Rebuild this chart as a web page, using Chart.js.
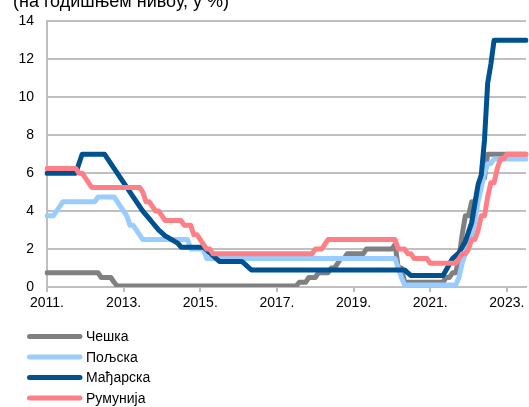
<!DOCTYPE html>
<html><head><meta charset="utf-8">
<script src="https://cdn.jsdelivr.net/npm/chart.js@4/dist/chart.umd.min.js"></script>
<style>
html,body{margin:0;padding:0;background:#fff;overflow:hidden}
#wrap{position:relative;width:529px;height:407px;overflow:hidden}
#title{position:absolute;left:13px;top:-8px;font:18px 'Liberation Sans',Arial,sans-serif;line-height:18px;white-space:nowrap;color:#000}
canvas{position:absolute;left:0;top:0}
</style></head><body>
<div id="wrap"><canvas id="c" width="529" height="407"></canvas><div id="title">(на годишњем нивоу, у %)</div></div>
<script>
// Categories: months Jan 2011 .. Jul 2023
const startYear = 2011, endYear = 2023, endMonth = 7;
const months = [];
for (let y = startYear; y <= endYear; y++) {
  for (let m = 1; m <= 12; m++) {
    if (y === endYear && m > endMonth) break;
    months.push(y + '-' + (m < 10 ? '0' + m : m));
  }
}
const yearTickLabels = ['2011.', '2013.', '2015.', '2017.', '2019.', '2021.', '2023.'];
const seriesNames = ['Чешка', 'Пољска', 'Мађарска', 'Румунија'];

const czech = [
  0.75,0.75,0.75,0.75,0.75,0.75,0.75,0.75,0.75,0.75,0.75,0.75, // 2011
  0.75,0.75,0.75,0.75,0.75,0.5,0.5,0.5,0.5,0.25,0.05,0.05,     // 2012
  0.05,0.05,0.05,0.05,0.05,0.05,0.05,0.05,0.05,0.05,0.05,0.05, // 2013
  0.05,0.05,0.05,0.05,0.05,0.05,0.05,0.05,0.05,0.05,0.05,0.05, // 2014
  0.05,0.05,0.05,0.05,0.05,0.05,0.05,0.05,0.05,0.05,0.05,0.05, // 2015
  0.05,0.05,0.05,0.05,0.05,0.05,0.05,0.05,0.05,0.05,0.05,0.05, // 2016
  0.05,0.05,0.05,0.05,0.05,0.05,0.05,0.25,0.25,0.25,0.5,0.5,   // 2017
  0.5,0.75,0.75,0.75,0.75,1,1,1.25,1.5,1.5,1.75,1.75,          // 2018
  1.75,1.75,1.75,1.75,2,2,2,2,2,2,2,2,                         // 2019
  2,2.25,1,1,0.25,0.25,0.25,0.25,0.25,0.25,0.25,0.25,          // 2020
  0.25,0.25,0.25,0.25,0.25,0.5,0.5,0.75,0.75,1.5,2.75,3.75,    // 2021
  3.75,4.5,4.5,5,5.75,5.75,7,7,7,7,7,7,                        // 2022
  7,7,7,7,7,7,7                                                // 2023
];
const poland = [
  3.75,3.75,3.75,4,4.25,4.5,4.5,4.5,4.5,4.5,4.5,4.5,           // 2011
  4.5,4.5,4.5,4.5,4.75,4.75,4.75,4.75,4.75,4.75,4.5,4.25,      // 2012
  4,3.75,3.25,3.25,3,2.75,2.5,2.5,2.5,2.5,2.5,2.5,             // 2013
  2.5,2.5,2.5,2.5,2.5,2.5,2.5,2.5,2.5,2,2,2,                   // 2014
  2,2,1.5,1.5,1.5,1.5,1.5,1.5,1.5,1.5,1.5,1.5,                 // 2015
  1.5,1.5,1.5,1.5,1.5,1.5,1.5,1.5,1.5,1.5,1.5,1.5,             // 2016
  1.5,1.5,1.5,1.5,1.5,1.5,1.5,1.5,1.5,1.5,1.5,1.5,             // 2017
  1.5,1.5,1.5,1.5,1.5,1.5,1.5,1.5,1.5,1.5,1.5,1.5,             // 2018
  1.5,1.5,1.5,1.5,1.5,1.5,1.5,1.5,1.5,1.5,1.5,1.5,             // 2019
  1.5,1.5,1,0.5,0.1,0.1,0.1,0.1,0.1,0.1,0.1,0.1,               // 2020
  0.1,0.1,0.1,0.1,0.1,0.1,0.1,0.1,0.1,0.5,1.25,1.75,           // 2021
  2.25,2.75,3.5,4.5,5.25,6,6.5,6.5,6.75,6.75,6.75,6.75,        // 2022
  6.75,6.75,6.75,6.75,6.75,6.75,6.75                           // 2023
];
const hungary = [
  6,6,6,6,6,6,6,6,6,6,6.5,7,                                   // 2011
  7,7,7,7,7,7,7,6.75,6.5,6.25,6,5.75,                          // 2012
  5.5,5.25,5,4.75,4.5,4.25,4,3.8,3.6,3.4,3.2,3,                // 2013
  2.85,2.7,2.6,2.5,2.4,2.3,2.1,2.1,2.1,2.1,2.1,2.1,            // 2014
  2.1,2.1,1.95,1.8,1.65,1.5,1.35,1.35,1.35,1.35,1.35,1.35,     // 2015
  1.35,1.35,1.2,1.05,0.9,0.9,0.9,0.9,0.9,0.9,0.9,0.9,          // 2016
  0.9,0.9,0.9,0.9,0.9,0.9,0.9,0.9,0.9,0.9,0.9,0.9,             // 2017
  0.9,0.9,0.9,0.9,0.9,0.9,0.9,0.9,0.9,0.9,0.9,0.9,             // 2018
  0.9,0.9,0.9,0.9,0.9,0.9,0.9,0.9,0.9,0.9,0.9,0.9,             // 2019
  0.9,0.9,0.9,0.9,0.9,0.75,0.6,0.6,0.6,0.6,0.6,0.6,            // 2020
  0.6,0.6,0.6,0.6,0.6,0.9,1.2,1.5,1.65,1.8,2.1,2.4,            // 2021
  2.9,3.4,4.4,5.4,5.9,7.75,10.75,11.75,13,13,13,13,            // 2022
  13,13,13,13,13,13,13                                         // 2023
];
const romania = [
  6.25,6.25,6.25,6.25,6.25,6.25,6.25,6.25,6.25,6.25,6,6,       // 2011
  5.75,5.5,5.25,5.25,5.25,5.25,5.25,5.25,5.25,5.25,5.25,5.25,  // 2012
  5.25,5.25,5.25,5.25,5.25,5.25,5,4.5,4.5,4.25,4,4,            // 2013
  3.75,3.5,3.5,3.5,3.5,3.5,3.5,3.25,3.25,3.25,2.75,2.75,       // 2014
  2.5,2.25,2,2,1.75,1.75,1.75,1.75,1.75,1.75,1.75,1.75,        // 2015
  1.75,1.75,1.75,1.75,1.75,1.75,1.75,1.75,1.75,1.75,1.75,1.75, // 2016
  1.75,1.75,1.75,1.75,1.75,1.75,1.75,1.75,1.75,1.75,1.75,1.75, // 2017
  2,2,2,2.25,2.5,2.5,2.5,2.5,2.5,2.5,2.5,2.5,                  // 2018
  2.5,2.5,2.5,2.5,2.5,2.5,2.5,2.5,2.5,2.5,2.5,2.5,             // 2019
  2.5,2.5,2,2,2,1.75,1.75,1.5,1.5,1.5,1.5,1.5,                 // 2020
  1.25,1.25,1.25,1.25,1.25,1.25,1.25,1.25,1.25,1.5,1.75,1.75,  // 2021
  2,2.5,2.5,3,3.75,3.75,4.75,5.5,5.5,6.25,6.75,6.75,           // 2022
  7,7,7,7,7,7,7                                                // 2023
];

const colors = ['#808080', '#99ccff', '#00518f', '#ff7f87'];
const FONT = "'Liberation Sans', Arial, sans-serif";
const allSeries = [czech, poland, hungary, romania];

const vLegend = {
  id: 'vLegend',
  afterDraw(chart) {
    const ctx = chart.ctx;
    const rows = [336.5, 357, 377.5, 398];
    chart.data.datasets.forEach((ds, i) => {
      ctx.save();
      ctx.strokeStyle = ds.borderColor;
      ctx.lineWidth = 5;
      ctx.lineCap = 'round';
      ctx.beginPath();
      ctx.moveTo(29.5, rows[i]);
      ctx.lineTo(80, rows[i]);
      ctx.stroke();
      ctx.fillStyle = '#000';
      ctx.font = '14px ' + FONT;
      ctx.textBaseline = 'middle';
      ctx.fillText(ds.label, 86, rows[i] + 1);
      ctx.restore();
    });
  }
};

new Chart(document.getElementById('c'), {
  type: 'line',
  data: {
    labels: months,
    datasets: allSeries.map((d, i) => ({
      label: seriesNames[i],
      data: d,
      borderColor: colors[i],
      backgroundColor: colors[i],
      borderWidth: 5,
      pointRadius: 0,
      tension: 0,
      fill: false,
      borderCapStyle: 'round',
      borderJoinStyle: 'round',
      order: 3 - i
    }))
  },
  options: {
    responsive: false,
    animation: false,
    devicePixelRatio: 1,
    layout: { padding: { left: 0, right: 0, top: 20, bottom: 90 } },
    plugins: { legend: { display: false }, tooltip: { enabled: false }, title: { display: false } },
    scales: {
      x: {
        type: 'category',
        offset: false,
        grid: {
          display: true,
          drawOnChartArea: false,
          drawTicks: true,
          tickLength: 5,
          lineWidth: 2,
          color: (c) => (c.index % 24 === 0 ? '#bfbfbf' : 'rgba(0,0,0,0)')
        },
        border: { display: true, color: '#bfbfbf', width: 2 },
        ticks: {
          autoSkip: false,
          maxRotation: 0,
          minRotation: 0,
          padding: 3,
          color: '#000',
          font: { size: 14, family: FONT },
          callback: (v, i) => (i % 24 === 0 ? yearTickLabels[i / 24] : '')
        },
        afterFit: (s) => { s.height = 30; }
      },
      y: {
        min: 0,
        max: 14,
        ticks: { stepSize: 2, padding: 13, color: '#000', font: { size: 14, family: FONT } },
        grid: { color: '#c0c0c0', lineWidth: 2, drawTicks: false },
        border: { display: true, color: '#bfbfbf', width: 2 },
        afterFit: (s) => { s.width = 47; }
      }
    }
  },
  plugins: [vLegend]
});
</script>
</body></html>
